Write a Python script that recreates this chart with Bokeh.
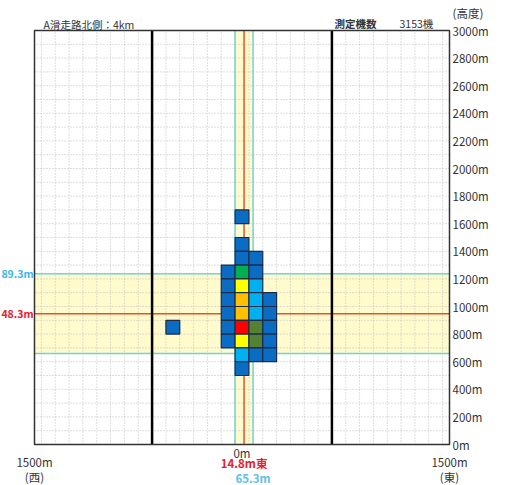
from bokeh.plotting import figure
from bokeh.models import ColumnDataSource, Range1d
from bokeh.core.properties import value
from bokeh.embed import file_html
from bokeh.resources import INLINE

# ---- data ----
cell_x = [0, 0, 0, 100, -100, 0, 100, -100, 0, 100, -100, 0, 100, 200,
          -100, 0, 100, 200, -100, 0, 100, 200, -100, 0, 100, 200,
          0, 100, 200, 0, -500]
cell_y = [1650, 1450, 1350, 1350, 1250, 1250, 1250, 1150, 1150, 1150,
          1050, 1050, 1050, 1050, 950, 950, 950, 950, 850, 850, 850, 850,
          750, 750, 750, 750, 650, 650, 650, 550, 850]
# level classes: 0 dark blue, 1 sky blue, 2 olive, 3 green, 4 yellow, 5 orange, 6 red
cell_level = [0, 0, 0, 0, 0, 3, 0, 0, 4, 1,
              0, 5, 1, 0, 0, 5, 1, 0, 0, 6, 2, 0,
              0, 4, 2, 0, 1, 0, 0, 0, 0]
level_colors = ["#0B6CC3", "#00B0F0", "#548235", "#00B050", "#FFFF00", "#FFC000", "#FF0000"]

mean_x = 14.8      # m east
sd_x = 65.3
mean_y = 948.3     # m altitude
sd_y = 289.3
aircraft_count = 3153
y_ticks = list(range(0, 3001, 200))
x_min, x_max = -1500, 1500
y_min, y_max = 0, 3000
section_lines = [-650, 650]
grid_x = list(range(-1450, 1451, 100))
grid_y = list(range(100, 3000, 100))

FONT = "Noto Sans CJK JP"

# ---- layout: frame covers whole canvas; plot box drawn as glyphs ----
W, H = 500, 485
BOX_L, BOX_T, BOX_W, BOX_H = 34, 30, 415, 414
kx = BOX_W / (x_max - x_min)
ky = BOX_H / (y_max - y_min)


def px2x(px):
    return x_min + (px - BOX_L) / kx


def px2y(py):
    return y_min + (BOX_T + BOX_H - py) / ky


p = figure(width=W, height=H, output_backend="svg", toolbar_location=None,
           x_axis_location=None, y_axis_location=None,
           x_range=Range1d(px2x(0), px2x(W)), y_range=Range1d(px2y(H), px2y(0)),
           min_border=0)
p.outline_line_color = None
p.background_fill_color = "white"
p.border_fill_color = "white"
p.grid.visible = False

band_fill = "#FFFBCC"
p.quad(left=[x_min], right=[x_max], bottom=[mean_y - sd_y], top=[mean_y + sd_y],
       fill_color=band_fill, line_color=None)
p.quad(left=[mean_x - sd_x], right=[mean_x + sd_x], bottom=[y_min], top=[y_max],
       fill_color=band_fill, line_color=None)

# dotted grid
p.segment(x0=grid_x, x1=grid_x, y0=[y_min] * len(grid_x), y1=[y_max] * len(grid_x),
          line_color="#BDBDBD", line_dash="1 2", line_width=1)
p.segment(x0=[x_min] * len(grid_y), x1=[x_max] * len(grid_y), y0=grid_y, y1=grid_y,
          line_color="#BDBDBD", line_dash="1 2", line_width=1)

# mean / sd lines
cyan = "#6FD3DA"
red = "#E8502F"
hy = [mean_y - sd_y, mean_y + sd_y]
p.segment(x0=[x_min] * 2, x1=[x_max] * 2, y0=hy, y1=hy, line_color=cyan, line_width=1.5)
vx = [mean_x - sd_x, mean_x + sd_x]
p.segment(x0=vx, x1=vx, y0=[y_min] * 2, y1=[y_max] * 2, line_color=cyan, line_width=1.5)
p.segment(x0=[x_min], x1=[x_max], y0=[mean_y], y1=[mean_y], line_color=red, line_width=1.5)
p.segment(x0=[mean_x], x1=[mean_x], y0=[y_min], y1=[y_max], line_color=red, line_width=1.5)
p.segment(x0=section_lines, x1=section_lines, y0=[y_min] * 2, y1=[y_max] * 2,
          line_color="black", line_width=2.5)

# cells
src = ColumnDataSource(dict(x=cell_x, y=cell_y,
                            color=[level_colors[l] for l in cell_level]))
p.rect(x="x", y="y", width=100, height=100, source=src, fill_color="color",
       line_color="#1C2B48", line_width=1.2)

# plot box
p.quad(left=[x_min], right=[x_max], bottom=[y_min], top=[y_max],
       fill_color=None, line_color="#333333", line_width=1.5)


def txt(xs, ys, texts, align="left", color="#333333", size="11.5px", style="normal"):
    p.text(x=xs, y=ys, text=texts, text_align=align, text_baseline="middle",
           text_color=color, text_font=value(FONT), text_font_size=value(size),
           text_font_style=style)


# right altitude tick labels
txt([px2x(BOX_L + BOX_W + 3)] * len(y_ticks), y_ticks, [f"{v}m" for v in y_ticks])

# top texts
txt([px2x(43)], [px2y(23.5)], ["A滑走路北側：4km"], size="10.5px")
txt([px2x(334)], [px2y(22.5)], ["測定機数"], size="10.5px", style="bold")
txt([px2x(399)], [px2y(22.5)], [f"{aircraft_count}機"], size="10.5px")
txt([px2x(452)], [px2y(12)], ["(高度)"], size="11.5px")

# left mean / sd labels (left digit falls outside the picture in the source)
txt([px2x(33)], [mean_y + sd_y], [f"{sd_y:.1f}m"[1:]], align="right",
    color="#3DB5EC", size="10.5px", style="bold")
txt([px2x(33)], [mean_y], [f"{mean_y:.1f}m"[1:]], align="right",
    color="#E8202A", size="10.5px", style="bold")

# bottom labels
txt([0], [px2y(452.5)], ["0m"], align="center")
txt([x_min, x_max], [px2y(461.5)] * 2, ["1500m", "1500m"], align="center")
txt([x_min, x_max], [px2y(476.5)] * 2, ["(西)", "(東)"], align="center")
txt([mean_x], [px2y(462.5)], [f"{mean_x:.1f}m東"], align="center",
    color="#E8202A", style="bold")
txt([mean_x + sd_x], [px2y(477)], [f"{sd_x:.1f}m"], align="center",
    color="#5BC0EB", style="bold")

open("out.html", "w").write(file_html(p, INLINE))
